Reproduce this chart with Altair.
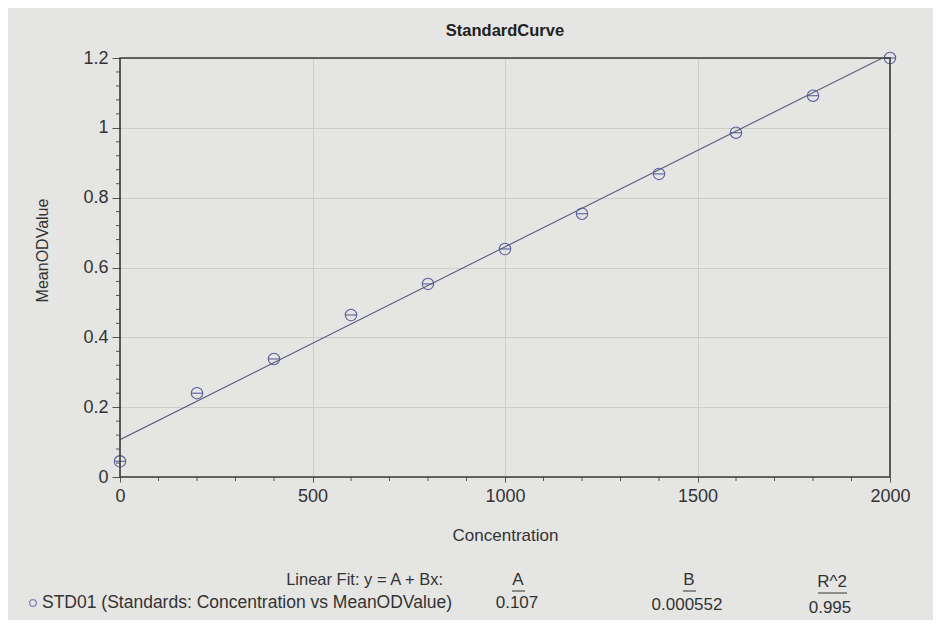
import altair as alt
import pandas as pd

# ---- data ----
concentration = [0, 200, 400, 600, 800, 1000, 1200, 1400, 1600, 1800, 2000]
mean_od = [0.045, 0.240, 0.338, 0.464, 0.553, 0.653, 0.754, 0.868, 0.986, 1.092, 1.200]

fit_A = 0.107
fit_B = 0.000552
fit_R2 = 0.995

x_major = [0, 500, 1000, 1500, 2000]
y_major = [0, 0.2, 0.4, 0.6, 0.8, 1.0, 1.2]
x_minor = [v for v in range(0, 2001, 100) if v % 500 != 0]
y_minor = [round(i * 0.04, 2) for i in range(0, 31) if i % 5 != 0]

W, H = 770, 419
FONT = "Liberation Sans"
BG = "#e5e5e3"

pts = pd.DataFrame({"conc": concentration, "od": mean_od})
fit_x = [min(concentration), max(concentration)]
fit = pd.DataFrame({"conc": fit_x, "od": [fit_A + fit_B * v for v in fit_x]})

xs = alt.Scale(domain=[0, 2000], nice=False, zero=False)
ys = alt.Scale(domain=[0, 1.2], nice=False, zero=False)

xaxis = alt.Axis(values=x_major, title="Concentration", grid=True, gridColor="#cdcdcb",
                 domain=False, tickSize=5, tickColor="#555", labelPadding=5,
                 labelFontSize=18, labelColor="#333", labelFont=FONT,
                 titleFont=FONT, titleFontSize=17, titleFontWeight="normal",
                 titleColor="#333", titlePadding=22, labelFlush=False, format="d")
yaxis = alt.Axis(values=y_major, title="MeanODValue", grid=True, gridColor="#cdcdcb",
                 domain=False, tickSize=8, tickColor="#555", labelPadding=4,
                 labelFontSize=18, labelColor="#333", labelFont=FONT,
                 titleFont=FONT, titleFontSize=16, titleFontWeight="normal",
                 titleColor="#333", titleX=-78, titleY=192, titleBaseline="middle",
                 titleAngle=270, labelFlush=False, format="~g")

base = alt.Chart(pts)

line = alt.Chart(fit).mark_line(color="#5a5d75", strokeWidth=1.1, clip=True).encode(
    x=alt.X("conc:Q", scale=xs, axis=xaxis),
    y=alt.Y("od:Q", scale=ys, axis=yaxis),
)
circles = base.mark_point(shape="circle", filled=False, size=130, color="#5b5f9a",
                          strokeWidth=1.1, opacity=1).encode(
    x=alt.X("conc:Q", scale=xs), y=alt.Y("od:Q", scale=ys))
bars = base.mark_point(shape="stroke", size=130, color="#5b5f9a",
                       strokeWidth=1.1, opacity=1).encode(
    x=alt.X("conc:Q", scale=xs), y=alt.Y("od:Q", scale=ys))

xmin_df = pd.DataFrame({"v": x_minor})
ymin_df = pd.DataFrame({"v": y_minor})
xminor = alt.Chart(xmin_df).mark_rule(color="#555", strokeWidth=1).encode(
    x=alt.X("v:Q", scale=xs), y=alt.value(H), y2=alt.value(H + 4))
yminor = alt.Chart(ymin_df).mark_rule(color="#555", strokeWidth=1).encode(
    y=alt.Y("v:Q", scale=ys), x=alt.value(0), x2=alt.value(-4))

frame = alt.Chart(pd.DataFrame({"a": [0]})).mark_rect(
    fill=None, stroke="#3a3a3a", strokeWidth=1.6).encode(
    x=alt.value(0), x2=alt.value(W), y=alt.value(0), y2=alt.value(H))

def txt(s, x, y, align="center", size=16):
    return alt.Chart(pd.DataFrame({"t": [s]})).mark_text(
        font=FONT, fontSize=size, color="#333", align=align, baseline="middle").encode(
        text="t:N", x=alt.value(x), y=alt.value(y))

def underline(x1, x2, y):
    return alt.Chart(pd.DataFrame({"a": [0]})).mark_rule(color="#333", strokeWidth=1).encode(
        x=alt.value(x1), x2=alt.value(x2), y=alt.value(y))

r1 = 522
r2 = 545
legend = [
    txt("Linear Fit: y = A + Bx:", 323, r1, align="right", size=16.5),
    txt("A", 398, r1, size=17), underline(392, 405, r1 + 11),
    txt("B", 569, r1, size=17), underline(563, 576, r1 + 11),
    txt("R^2", 712, r1 + 2, size=17), underline(698, 727, r1 + 13),
    txt("STD01 (Standards: Concentration vs MeanODValue)", -78, r2, align="left", size=17.5),
    txt(f"{fit_A:g}", 397, r2, size=17),
    txt(f"{fit_B:.6f}", 567, r2 + 2, size=17),
    txt(f"{fit_R2:g}", 710, r2 + 5, size=17),
]
legend_sym = alt.Chart(pd.DataFrame({"a": [0]})).mark_point(
    shape="circle", filled=False, size=45, color="#5b5f9a", strokeWidth=1.3).encode(
    x=alt.value(-87), y=alt.value(r2))

chart = alt.layer(line, circles, bars, xminor, yminor, frame, legend_sym, *legend).properties(
    width=W, height=H,
    background=BG,
    padding={"left": 112, "top": 50, "right": 43, "bottom": 143},
    autosize=alt.AutoSizeParams(type="none"),
    title=alt.TitleParams("StandardCurve", font=FONT, fontSize=16.5, fontWeight="bold",
                          color="#222", anchor="middle", offset=10),
).configure_view(stroke=None)

chart.save("out.html", embed_options={"renderer": "svg", "actions": False})
